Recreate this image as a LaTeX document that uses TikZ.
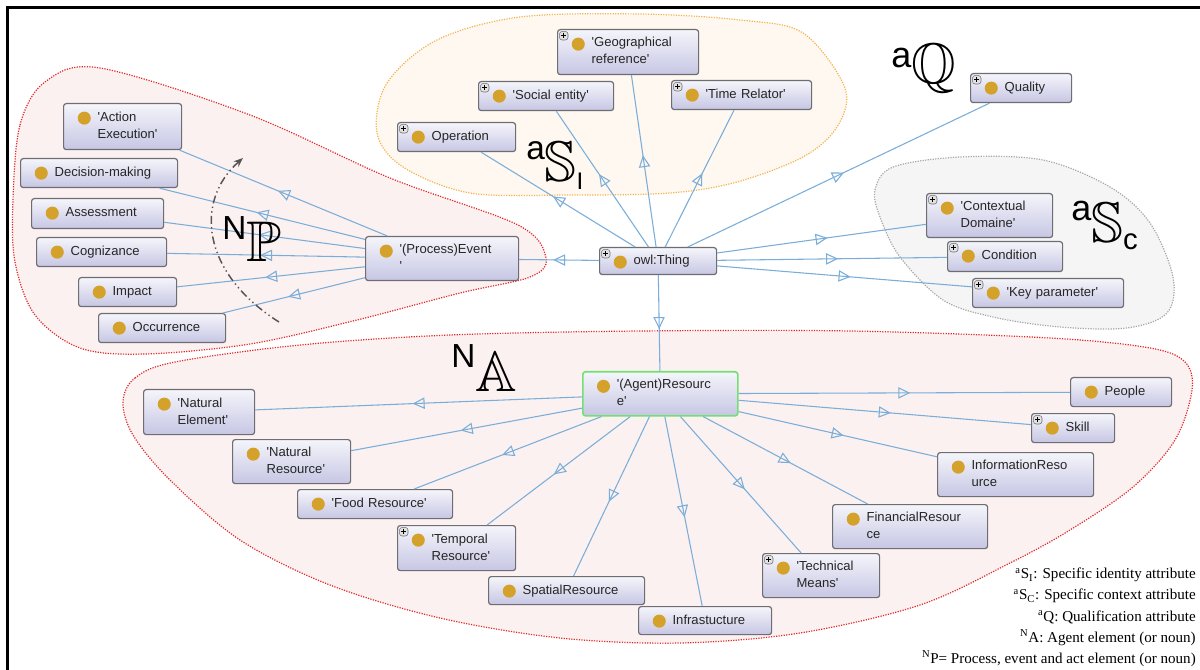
\documentclass[tikz,border=0pt]{standalone}
\usepackage{fontspec}
\setmainfont{Liberation Serif}
\setsansfont{Liberation Sans}
\usetikzlibrary{arrows.meta,decorations.markings}

\definecolor{edgeblue}{HTML}{7AAED8}
\definecolor{boxline}{HTML}{6E6E72}
\definecolor{boxtop}{HTML}{F5F5FB}
\definecolor{boxbot}{HTML}{C6C6E4}
\definecolor{dotgold}{HTML}{D4A12B}
\definecolor{agentgreen}{HTML}{72E072}
\definecolor{redline}{HTML}{E02A2A}
\definecolor{redfill}{HTML}{FCF1F1}
\definecolor{orangeline}{HTML}{F6B24E}
\definecolor{orangefill}{HTML}{FEF8F0}
\definecolor{greyline}{HTML}{A6A6A6}
\definecolor{greyfill}{HTML}{F5F5F5}
\definecolor{arcgrey}{HTML}{555555}

\newcommand{\sq}{\textquotesingle}
\newcommand{\cltext}[1]{\noindent\hspace*{25.5pt}\begin{tabular}{@{}l@{}}#1\end{tabular}}
\newcommand{\bb}[1]{{\fontsize{43}{43}\usefont{U}{msb}{m}{n}#1}}
\newcommand{\clsdot}{\fill[dotgold] ([xshift=15.5pt,yshift=-10.9pt]path picture bounding box.north west) circle (4.9pt);}
\newcommand{\clsplus}{%
  \draw[boxline, fill=white!80!boxline, line width=0.4pt] ([shift={(1.4pt,-1.4pt)}]path picture bounding box.north west) rectangle +(6.4pt,-6.4pt);
  \draw[black, line width=0.5pt] ([shift={(4.6pt,-2.8pt)}]path picture bounding box.north west) -- +(0,-3.6pt)
    ([shift={(2.8pt,-4.6pt)}]path picture bounding box.north west) -- +(3.6pt,0);}

\tikzset{%
  cls/.style={draw=boxline, line width=0.9pt, rounded corners=2pt, top color=boxtop, bottom color=boxbot,
    anchor=north west, inner sep=0pt, align=left, text=black!85,
    font=\sffamily\fontsize{9.8}{12.75}\selectfont, path picture={\clsdot}},
  plus/.style={path picture={\clsdot\clsplus}},
  boxsize/.code 2 args={\pgfmathsetlengthmacro\boxw{#1*0.75pt}\pgfmathsetlengthmacro\boxh{#2*0.75pt}%
    \tikzset{minimum width=\boxw, text width=\boxw, minimum height=\boxh}},
  isa/.style={draw=edgeblue, line width=0.8pt, postaction={decorate},
    decoration={markings, mark=at position 0.5 with {\pgftransformxshift{4.5pt}\arrow{Triangle[open, length=9pt, width=8.5pt]}}}},
  blob/.style={line width=0.9pt, dash pattern=on 0.9pt off 1pt},
  arcline/.style={draw=arcgrey, line width=1.1pt, dash pattern=on 6pt off 2.5pt on 1pt off 2.5pt on 1pt off 2.5pt,
    -{Stealth[length=7pt, width=5.5pt]}},
  biglbl/.style={anchor=base west, inner sep=0pt, font=\sffamily},
  legendtext/.style={anchor=north east, align=right, inner sep=0pt, font=\rmfamily\fontsize{11.3}{15.8}\selectfont}
}

\begin{document}
\begin{tikzpicture}[x=0.75pt, y=-0.75pt]
  \useasboundingbox (0,0) rectangle (1200,670);
  \fill[white] (0,0) rectangle (1200,670);
  \draw[line width=1.9pt] (7.5,670) -- (7.5,7.5) -- (1200,7.5);

  % groups
  \draw[blob, draw=redline, fill=redfill] plot[smooth cycle, tension=0.55] coordinates {
    (13,200) (20,125) (45,82) (100,68) (250,115) (390,178) (518,225) (546,258) (530,277)
    (460,293) (357,320) (250,344) (145,354) (80,348) (35,315) (15,262)};
  \draw[blob, draw=orangeline, fill=orangefill] plot[smooth cycle, tension=0.55] coordinates {
    (377,133) (387,83) (437,40) (520,17) (640,14) (740,20) (803,33) (845,88) (837,127)
    (803,157) (737,182) (670,193) (570,195) (470,193) (403,167)};
  \draw[blob, draw=greyline, fill=greyfill] plot[smooth cycle, tension=0.55] coordinates {
    (875,190) (893,167) (960,157) (1043,160) (1110,187) (1150,223) (1173,277) (1167,313)
    (1127,328) (1060,327) (993,317) (943,300) (900,257) (880,217)};
  \draw[blob, draw=redline, fill=redfill] plot[smooth cycle, tension=0.55] coordinates {
    (123,402) (135,378) (175,362) (300,345) (450,335) (640,331) (850,331) (1050,338)
    (1150,348) (1185,362) (1192,390) (1175,440) (1133,487) (1070,530) (1010,563) (920,605)
    (800,633) (680,643) (560,638) (440,618) (330,585) (240,540) (170,480) (133,435)};

  % process elements
  \node[cls, boxsize={118}{46}] (ae) at (63,103) {\cltext{\sq Action\\Execution\sq}};
  \node[cls, boxsize={157}{29}] (dm) at (20,158) {\cltext{Decision-making}};
  \node[cls, boxsize={132}{30}] (as) at (31,198) {\cltext{Assessment}};
  \node[cls, boxsize={130}{29}] (cg) at (36,237) {\cltext{Cognizance}};
  \node[cls, boxsize={98}{29}] (im) at (78,277) {\cltext{Impact}};
  \node[cls, boxsize={127}{29}] (oc) at (98,313) {\cltext{Occurrence}};
  \node[cls, boxsize={153}{44}] (pe) at (365,236) {\cltext{\sq(Process)Event\\\sq}};

  % attributes
  \node[cls, plus, boxsize={118}{29}] (op) at (397,122) {\cltext{Operation}};
  \node[cls, plus, boxsize={135}{29}] (se) at (478,81) {\cltext{\sq Social entity\sq}};
  \node[cls, plus, boxsize={141}{45}] (gr) at (557,29) {\cltext{\sq Geographical\\reference\sq}};
  \node[cls, plus, boxsize={140}{29}] (tr) at (671,80) {\cltext{\sq Time Relator\sq}};
  \node[cls, plus, boxsize={101}{29}] (ql) at (970,73) {\cltext{Quality}};
  \node[cls, plus, boxsize={126}{44}] (cd) at (926,193) {\cltext{\sq Contextual\\Domaine\sq}};
  \node[cls, plus, boxsize={115}{30}] (co) at (947,241) {\cltext{Condition}};
  \node[cls, plus, boxsize={151}{29}] (kp) at (972,278) {\cltext{\sq Key parameter\sq}};
  \node[cls, plus, boxsize={117}{27}] (th) at (599,247) {\cltext{owl:Thing}};
  \node[cls, draw=agentgreen, line width=1.2pt, boxsize={155}{44}] (ag) at (582,371) {\cltext{\sq(Agent)Resourc\\e\sq}};

  % agent elements
  \node[cls, boxsize={111}{45}] (ne) at (143,389) {\cltext{\sq Natural\\Element\sq}};
  \node[cls, boxsize={118}{44}] (nr) at (232,439) {\cltext{\sq Natural\\Resource\sq}};
  \node[cls, boxsize={155}{29}] (fr) at (297,489) {\cltext{\sq Food Resource\sq}};
  \node[cls, plus, boxsize={118}{45}] (tp) at (397,525) {\cltext{\sq Temporal\\Resource\sq}};
  \node[cls, boxsize={156}{28}] (sr) at (488,576) {\cltext{SpatialResource}};
  \node[cls, boxsize={133}{28}] (inf) at (638,606) {\cltext{Infrastucture}};
  \node[cls, plus, boxsize={117}{44}] (tm) at (762,553) {\cltext{\sq Technical\\Means\sq}};
  \node[cls, boxsize={155}{44}] (fi) at (832,504) {\cltext{FinancialResour\\ce}};
  \node[cls, boxsize={156}{44}] (ir) at (937,452) {\cltext{InformationReso\\urce}};
  \node[cls, plus, boxsize={83}{29}] (sk) at (1031,413) {\cltext{Skill}};
  \node[cls, boxsize={101}{29}] (pp) at (1070,377) {\cltext{People}};

  % subclass links
  \draw[isa] (th) -- (op);
  \draw[isa] (th) -- (se);
  \draw[isa] (th) -- (gr);
  \draw[isa] (th) -- (tr);
  \draw[isa] (th) -- (ql);
  \draw[isa] (th) -- (cd);
  \draw[isa] (th) -- (co);
  \draw[isa] (th) -- (kp);
  \draw[isa] (th) -- (pe);
  \draw[isa] (th) -- (ag);
  \draw[isa] (pe) -- (ae);
  \draw[isa] (pe) -- (dm);
  \draw[isa] (pe) -- (as);
  \draw[isa] (pe) -- (cg);
  \draw[isa] (pe) -- (im);
  \draw[isa] (pe) -- (oc);
  \draw[isa] (ag) -- (ne);
  \draw[isa] (ag) -- (nr);
  \draw[isa] (ag) -- (fr);
  \draw[isa] (ag) -- (tp);
  \draw[isa] (ag) -- (sr);
  \draw[isa] (ag) -- (inf);
  \draw[isa] (ag) -- (tm);
  \draw[isa] (ag) -- (fi);
  \draw[isa] (ag) -- (ir);
  \draw[isa] (ag) -- (sk);
  \draw[isa] (ag) -- (pp);

  % process sweep
  \coordinate (arcS) at (279,322);
  \coordinate (arcE) at (243,158);
  \draw[arcline] (arcS) .. controls (200,272) and (195,200) .. (arcE);

  % group labels
  \node[biglbl] (np) at (222,262) {\raisebox{16.5pt}{\fontsize{25}{25}\selectfont N}\bb{P}};
  \node[biglbl] (na) at (451,392) {\raisebox{18pt}{\fontsize{25}{25}\selectfont N}\bb{A}};
  \node[biglbl] (aq) at (891,84) {\raisebox{12pt}{\fontsize{27}{27}\selectfont a}\bb{Q}};
  \node[biglbl] (asi) at (526,182) {\raisebox{17pt}{\fontsize{25}{25}\selectfont a}\bb{S}\raisebox{-6pt}{\fontsize{18}{18}\selectfont I}};
  \node[biglbl] (asc) at (1071,243) {\raisebox{17pt}{\fontsize{27}{27}\selectfont a}\bb{S}\raisebox{-5pt}{\fontsize{22}{22}\selectfont c}};

  \node[legendtext] (legend) at (1196,568) {%
    \textsuperscript{a}S\textsubscript{I}: Specific identity attribute\\
    \textsuperscript{a}S\textsubscript{C}: Specific context attribute\\
    \textsuperscript{a}Q: Qualification attribute\\
    \textsuperscript{N}A: Agent element (or noun)\\
    \textsuperscript{N}P= Process, event and act element (or noun)};
\end{tikzpicture}
\end{document}
